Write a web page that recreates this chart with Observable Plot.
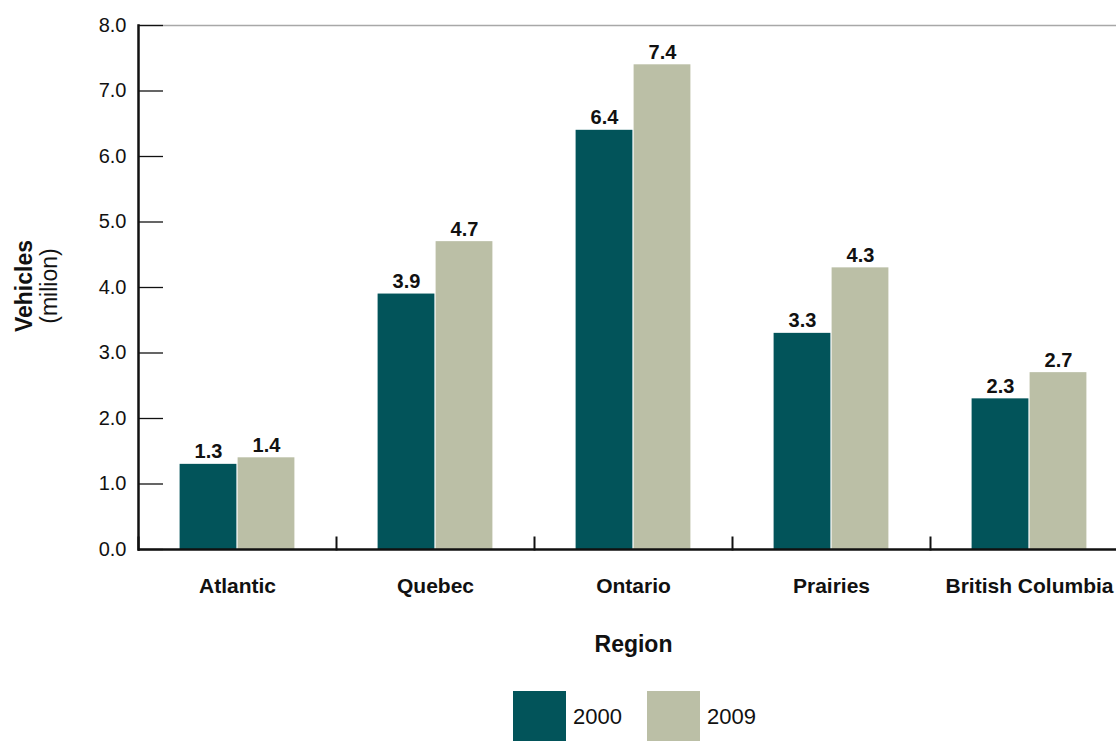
<!DOCTYPE html>
<html>
<head>
<meta charset="utf-8">
<script src="https://cdn.jsdelivr.net/npm/d3@7"></script>
<script src="https://cdn.jsdelivr.net/npm/@observablehq/plot@0.6"></script>
<style>
  body { margin: 0; background: #fff; font-family: "Liberation Sans", Arial, sans-serif; color: #111; }
  #wrap { position: relative; width: 1116px; height: 741px; overflow: hidden; background: #fff; }
  #ylabel {
    position: absolute; left: -33px; top: 261px; width: 140px; height: 50px;
    transform: rotate(-90deg); text-align: center; font-size: 23px; line-height: 25px;
  }
  #ylabel .b { font-weight: bold; }
  #legend { position: absolute; left: 513px; top: 691px; display: flex; align-items: center; font-size: 22px; }
  #legend .sw { width: 53px; height: 52px; margin-right: 7px; }
  #legend .lab { margin-right: 25px; }
  g[aria-label="fx-axis label"] { font-size: 23px; }
</style>
</head>
<body>
<div id="wrap">
  <div id="chart"></div>
  <div id="ylabel"><div class="b">Vehicles</div><div>(milion)</div></div>
  <div id="legend"></div>
</div>
<script>
// Registered vehicles by region, in millions
const regions = ["Atlantic", "Quebec", "Ontario", "Prairies", "British Columbia"];
const years = ["2000", "2009"];
const vehicles2000 = [1.3, 3.9, 6.4, 3.3, 2.3];
const vehicles2009 = [1.4, 4.7, 7.4, 4.3, 2.7];
const yTicks = [0, 1, 2, 3, 4, 5, 6, 7, 8];
const yearColors = ["#02545a", "#bbbfa6"];

const data = regions.flatMap((region, i) => [
  {region, year: years[0], value: vehicles2000[i]},
  {region, year: years[1], value: vehicles2009[i]}
]);

const chart = Plot.plot({
  width: 1116,
  height: 680,
  marginLeft: 137,
  marginRight: -13,
  marginTop: 25,
  marginBottom: 131,
  style: {fontFamily: "'Liberation Sans', Arial, sans-serif", color: "#111", background: "#fff"},
  fx: {domain: regions, padding: 0},
  x: {domain: years, paddingInner: 0, paddingOuter: 0.69, axis: null},
  y: {domain: [0, 8]},
  color: {domain: years, range: yearColors},
  marks: [
    Plot.ruleY([8], {stroke: "#a8a8a8", strokeWidth: 1.5}),
    Plot.barY(data, {fx: "region", x: "year", y: "value", fill: "year", insetLeft: 0.6, insetRight: 0.6}),
    Plot.text(data, {
      fx: "region", x: "year", y: "value", text: d => d.value.toFixed(1),
      lineAnchor: "bottom", dy: -6, fontWeight: "bold", fontSize: 20, fill: "#111"
    }),
    Plot.ruleY([0], {stroke: "#111", strokeWidth: 2.5}),
    // short separators between region groups
    Plot.frame({anchor: "left", stroke: "#111", strokeWidth: 2, insetTop: 512}),
    // vertical axis line
    Plot.frame({anchor: "left", facetAnchor: "left", stroke: "#111", strokeWidth: 2.5}),
    Plot.axisY(yTicks, {
      tickFormat: d => d.toFixed(1), tickSize: -25, tickPadding: 37,
      fontSize: 20, label: null, strokeWidth: 1.3
    }),
    Plot.axisFx({
      anchor: "bottom", tickSize: 0, tickPadding: 29, fontSize: 21, fontWeight: "bold",
      label: "Region", labelAnchor: "center", labelOffset: 102
    })
  ]
});
document.getElementById("chart").append(chart);

// Legend below the chart
const legend = d3.select("#legend");
years.forEach((y, i) => {
  legend.append("div").attr("class", "sw").style("background", yearColors[i]);
  legend.append("div").attr("class", "lab").text(y);
});
</script>
</body>
</html>
